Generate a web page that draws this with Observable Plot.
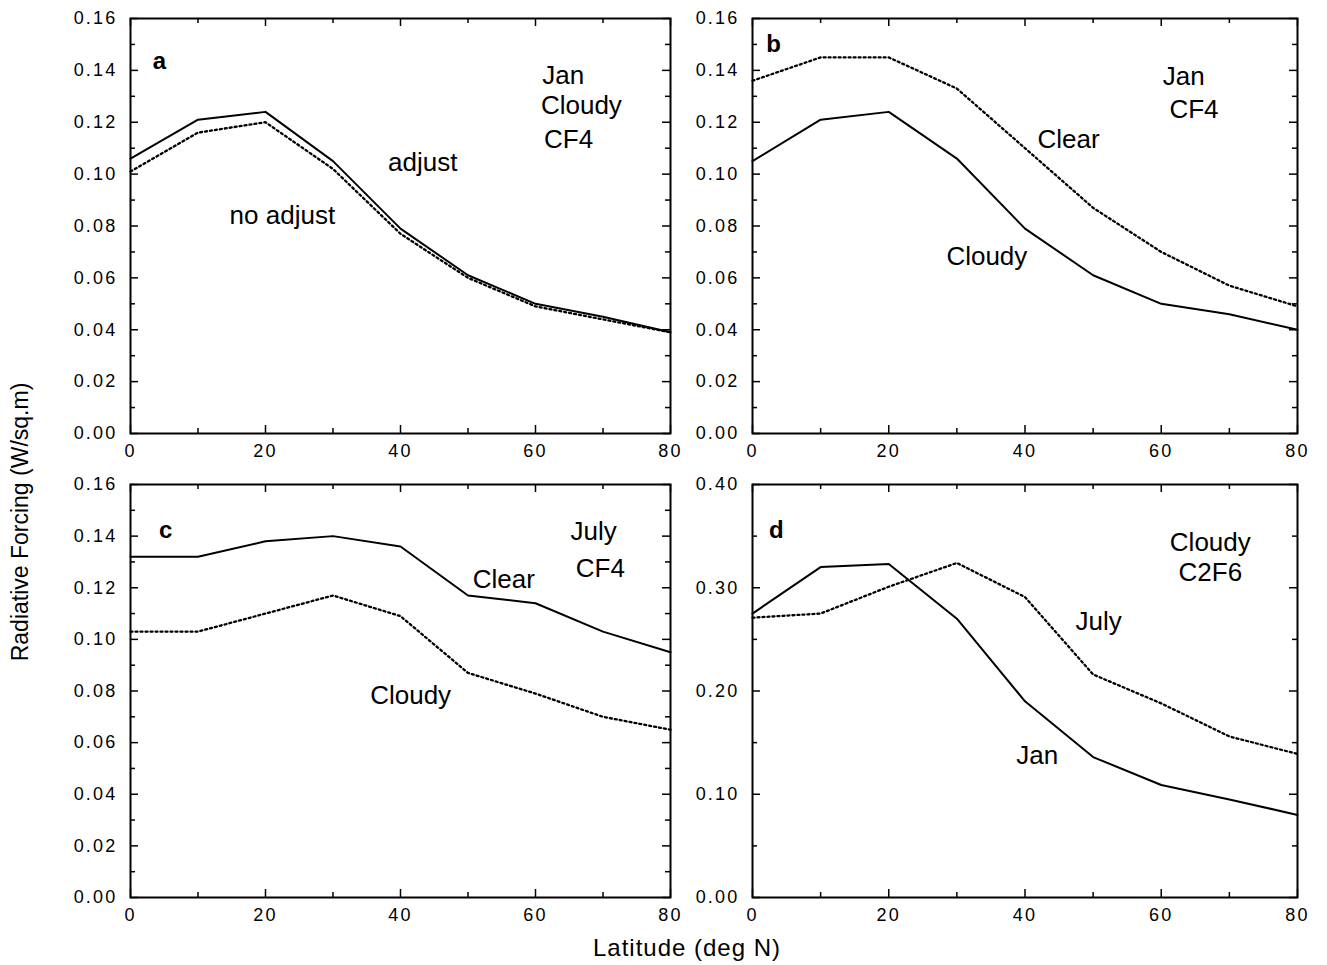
<!DOCTYPE html>
<html>
<head>
<meta charset="utf-8">
<script src="https://cdn.jsdelivr.net/npm/d3@7"></script>
<script src="https://cdn.jsdelivr.net/npm/@observablehq/plot@0.6"></script>
<style>
  html, body { margin: 0; padding: 0; background: #fff; }
  #root { position: relative; width: 1327px; height: 965px; overflow: hidden; font-family: "Liberation Sans", Arial, Helvetica, sans-serif; color: #000; }
  .panel { position: absolute; }
  .panel svg { background: transparent !important; overflow: visible; }
  .panel g[aria-label="x-axis tick label"] text,
  .panel g[aria-label="y-axis tick label"] text { letter-spacing: 2.2px; }
  #xtitle { position: absolute; left: 0; width: 1374px; top: 934px; text-align: center; font-size: 24px; letter-spacing: 1px; white-space: nowrap; }
  #ytitle { position: absolute; left: 20px; top: 522px; font-size: 23px; white-space: nowrap; transform: translate(-50%, -50%) rotate(-90deg); }
</style>
</head>
<body>
<div id="root">
  <div id="pa" class="panel"></div>
  <div id="pb" class="panel"></div>
  <div id="pc" class="panel"></div>
  <div id="pd" class="panel"></div>
  <div id="ytitle">Radiative Forcing (W/sq.m)</div>
  <div id="xtitle">Latitude (deg N)</div>
</div>
<script>
// ---- Data ----
const latitude = [0, 10, 20, 30, 40, 50, 60, 70, 80];

// Panel a: Jan, Cloudy, CF4
const aAdjust   = [0.106, 0.121, 0.124, 0.105, 0.079, 0.061, 0.050, 0.045, 0.039];
const aNoAdjust = [0.101, 0.116, 0.120, 0.102, 0.077, 0.060, 0.049, 0.044, 0.039];

// Panel b: Jan, CF4
const bCloudy = [0.105, 0.121, 0.124, 0.106, 0.079, 0.061, 0.050, 0.046, 0.040];
const bClear  = [0.136, 0.145, 0.145, 0.133, 0.110, 0.087, 0.070, 0.057, 0.049];

// Panel c: July, CF4
const cClear  = [0.132, 0.132, 0.138, 0.140, 0.136, 0.117, 0.114, 0.103, 0.095];
const cCloudy = [0.103, 0.103, 0.110, 0.117, 0.109, 0.087, 0.079, 0.070, 0.065];

// Panel d: Cloudy, C2F6
const dJan  = [0.275, 0.320, 0.323, 0.270, 0.190, 0.136, 0.109, 0.095, 0.080];
const dJuly = [0.271, 0.275, 0.301, 0.324, 0.291, 0.216, 0.188, 0.156, 0.139];

// Tick values
const xMajorTicks = [0, 20, 40, 60, 80];
const xMinorTicks = [10, 30, 50, 70];
const yMajorSmall = [0, 0.02, 0.04, 0.06, 0.08, 0.10, 0.12, 0.14, 0.16];
const yMinorSmall = [0.01, 0.03, 0.05, 0.07, 0.09, 0.11, 0.13, 0.15];
const yMajorLarge = [0, 0.10, 0.20, 0.30, 0.40];
const yMinorLarge = [0.05, 0.15, 0.25, 0.35];

// Annotation labels (latitude, value)
const aLabels = [
  {text: "Jan", x: 64.1, y: 0.1383},
  {text: "Cloudy", x: 66.8, y: 0.1268},
  {text: "CF4", x: 64.9, y: 0.1137},
  {text: "adjust", x: 43.3, y: 0.1048},
  {text: "no adjust", x: 22.5, y: 0.0844}
];
const bLabels = [
  {text: "Jan", x: 63.3, y: 0.138},
  {text: "CF4", x: 64.8, y: 0.1252},
  {text: "Clear", x: 46.4, y: 0.1137},
  {text: "Cloudy", x: 34.4, y: 0.0686}
];
const cLabels = [
  {text: "July", x: 68.6, y: 0.1422},
  {text: "CF4", x: 69.6, y: 0.1279},
  {text: "Clear", x: 55.3, y: 0.1236},
  {text: "Cloudy", x: 41.5, y: 0.0787}
];
const dLabels = [
  {text: "Cloudy\nC2F6", x: 67.2, y: 0.330},
  {text: "July", x: 50.8, y: 0.268},
  {text: "Jan", x: 41.8, y: 0.1385}
];
const panelLetters = [
  {text: "a", x: 4.3, y: 0.1434},
  {text: "b", x: 3.1, y: 0.150},
  {text: "c", x: 5.2, y: 0.1422},
  {text: "d", x: 3.5, y: 0.3554}
];

const ML = 70, MR = 15, MT = 10, MB = 40;

function makePanel(el, cfg) {
  const {left, top, w, h, yMax, yMajor, yMinor, solid, dotted, labels, letter, fmt} = cfg;
  const toRows = vals => latitude.map((x, i) => ({x, y: vals[i]}));
  const chart = Plot.plot({
    width: w + ML + MR,
    height: h + MT + MB,
    marginLeft: ML, marginRight: MR, marginTop: MT, marginBottom: MB,
    style: {background: "transparent", fontFamily: "'Liberation Sans', Arial, Helvetica, sans-serif", fontSize: "18px", color: "#000", overflow: "visible"},
    x: {domain: [0, 80]},
    y: {domain: [0, yMax]},
    marks: [
      // inward tick marks on all four sides
      Plot.ruleX(xMajorTicks, {x: d => d, insetTop: h - 8, stroke: "#000", strokeWidth: 1.5}),
      Plot.ruleX(xMajorTicks, {x: d => d, insetBottom: h - 8, stroke: "#000", strokeWidth: 1.5}),
      Plot.ruleX(xMinorTicks, {x: d => d, insetTop: h - 5, stroke: "#000", strokeWidth: 1.5}),
      Plot.ruleX(xMinorTicks, {x: d => d, insetBottom: h - 5, stroke: "#000", strokeWidth: 1.5}),
      Plot.ruleY(yMajor, {y: d => d, insetRight: w - 8, stroke: "#000", strokeWidth: 1.5}),
      Plot.ruleY(yMajor, {y: d => d, insetLeft: w - 8, stroke: "#000", strokeWidth: 1.5}),
      Plot.ruleY(yMinor, {y: d => d, insetRight: w - 5, stroke: "#000", strokeWidth: 1.5}),
      Plot.ruleY(yMinor, {y: d => d, insetLeft: w - 5, stroke: "#000", strokeWidth: 1.5}),
      Plot.axisX(xMajorTicks, {anchor: "bottom", tickSize: 0, tickPadding: 11, fontSize: 18, tickFormat: d => String(d), label: null}),
      Plot.axisY(yMajor, {anchor: "left", tickSize: 0, tickPadding: 13, fontSize: 18, tickFormat: fmt, label: null}),
      Plot.frame({stroke: "#000", strokeWidth: 2}),
      Plot.line(toRows(dotted), {x: "x", y: "y", stroke: "#000", strokeWidth: 2.3, strokeDasharray: "2,3"}),
      Plot.line(toRows(solid), {x: "x", y: "y", stroke: "#000", strokeWidth: 2}),
      Plot.text(labels, {x: "x", y: "y", text: "text", fontSize: 26, lineHeight: 1.15, textAnchor: "middle", fill: "#000"}),
      Plot.text([letter], {x: "x", y: "y", text: "text", fontSize: 24, fontWeight: "bold", textAnchor: "middle", fill: "#000"})
    ]
  });
  el.style.left = (left - ML) + "px";
  el.style.top = (top - MT) + "px";
  el.appendChild(chart);
}

const f2 = d => d.toFixed(2);

makePanel(document.getElementById("pa"), {
  left: 130, top: 18, w: 540, h: 415, yMax: 0.16, yMajor: yMajorSmall, yMinor: yMinorSmall,
  solid: aAdjust, dotted: aNoAdjust, labels: aLabels, letter: panelLetters[0], fmt: f2
});
makePanel(document.getElementById("pb"), {
  left: 752, top: 18, w: 545, h: 415, yMax: 0.16, yMajor: yMajorSmall, yMinor: yMinorSmall,
  solid: bCloudy, dotted: bClear, labels: bLabels, letter: panelLetters[1], fmt: f2
});
makePanel(document.getElementById("pc"), {
  left: 130, top: 484, w: 540, h: 413, yMax: 0.16, yMajor: yMajorSmall, yMinor: yMinorSmall,
  solid: cClear, dotted: cCloudy, labels: cLabels, letter: panelLetters[2], fmt: f2
});
makePanel(document.getElementById("pd"), {
  left: 752, top: 484, w: 545, h: 413, yMax: 0.40, yMajor: yMajorLarge, yMinor: yMinorLarge,
  solid: dJan, dotted: dJuly, labels: dLabels, letter: panelLetters[3], fmt: f2
});
</script>
</body>
</html>
